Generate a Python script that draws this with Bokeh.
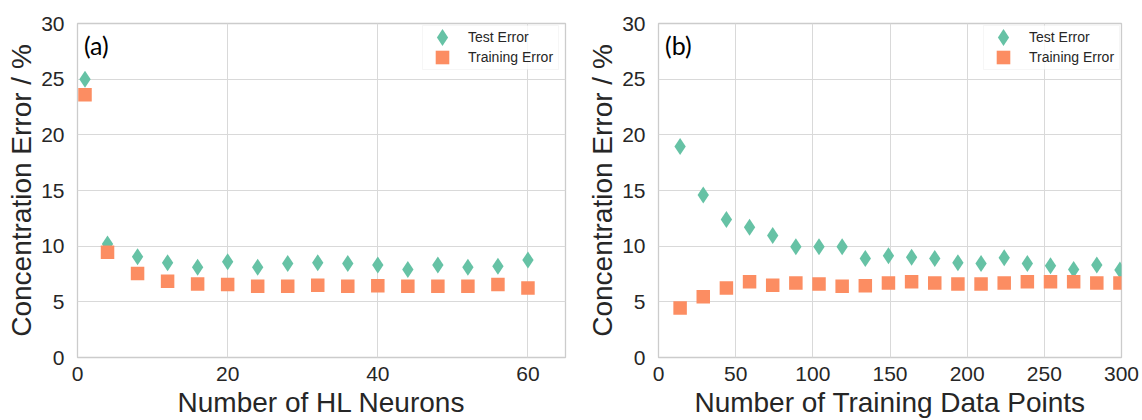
from bokeh.plotting import figure
from bokeh.layouts import row
from bokeh.models import (Legend, LegendItem, BoxAnnotation, Label, FixedTicker,
                          Range1d)
from bokeh.embed import file_html
from bokeh.resources import INLINE

# ---------------- data ----------------
hl_neurons = [1, 4, 8, 12, 16, 20, 24, 28, 32, 36, 40, 44, 48, 52, 56, 60]
hl_test = [25.0, 10.2, 9.05, 8.5, 8.1, 8.6, 8.1, 8.45, 8.5, 8.45, 8.3, 7.9, 8.3, 8.1, 8.2, 8.75]
hl_train = [23.6, 9.45, 7.55, 6.85, 6.6, 6.55, 6.4, 6.4, 6.5, 6.4, 6.45, 6.4, 6.4, 6.4, 6.55, 6.25]

tr_points = [14, 29, 44, 59, 74, 89, 104, 119, 134, 149, 164, 179, 194, 209, 224, 239, 254, 269, 284, 299]
tr_test = [18.95, 14.6, 12.4, 11.7, 10.95, 9.95, 9.95, 9.95, 8.9, 9.15, 9.0, 8.9, 8.5, 8.45, 8.95, 8.45, 8.25, 7.9, 8.3, 7.85]
tr_train = [4.45, 5.45, 6.25, 6.8, 6.5, 6.7, 6.6, 6.4, 6.45, 6.7, 6.8, 6.7, 6.6, 6.6, 6.7, 6.8, 6.8, 6.8, 6.7, 6.7]

y_ticks = [0, 5, 10, 15, 20, 25, 30]
hl_ticks = [0, 20, 40, 60]
tr_ticks = [0, 50, 100, 150, 200, 250, 300]

series_labels = ["Test Error", "Training Error"]
panel_tags = ["(a)", "(b)"]
x_labels = ["Number of HL Neurons", "Number of Training Data Points"]
y_label = "Concentration Error / %"

GREEN = "#66c2a5"
ORANGE = "#fc8d62"
TXT = "#262626"
FONT = "Liberation Sans"

H = 420
TOP = 23
BOTTOM = 59
FH = H - TOP - BOTTOM


def make_panel(xs, test, train, xmax, xticks, xlabel, tag, tag_x, width, bl, br):
    p = figure(width=width, height=H, x_range=Range1d(0, xmax), y_range=Range1d(0, 30),
               output_backend="svg", toolbar_location=None,
               min_border_left=bl, min_border_right=br,
               min_border_top=TOP, min_border_bottom=BOTTOM)
    fw = width - bl - br
    p.background_fill_color = "white"
    p.border_fill_color = "white"
    p.outline_line_color = "#cccccc"
    p.outline_line_width = 1.3

    p.xaxis.ticker = FixedTicker(ticks=xticks)
    p.yaxis.ticker = FixedTicker(ticks=y_ticks)
    for ax in (p.xaxis[0], p.yaxis[0]):
        ax.axis_line_color = None
        ax.major_tick_line_color = None
        ax.minor_tick_line_color = None
        ax.major_tick_out = 0
        ax.major_tick_in = 0
        ax.major_label_text_font = FONT
        ax.major_label_text_font_size = "21px"
        ax.major_label_text_color = TXT
        ax.axis_label_text_font = FONT
        ax.axis_label_text_font_size = "28px"
        ax.axis_label_text_font_style = "normal"
        ax.axis_label_text_color = TXT
    p.xaxis.axis_label = xlabel
    p.yaxis.axis_label = y_label
    p.xaxis.major_label_standoff = 9
    p.xaxis.axis_label_standoff = 3
    p.yaxis.major_label_standoff = 13
    p.yaxis.axis_label_standoff = 1

    p.xgrid.grid_line_color = "#d9d9d9"
    p.ygrid.grid_line_color = "#d9d9d9"
    p.xgrid.grid_line_width = 1
    p.ygrid.grid_line_width = 1

    r_test = p.scatter(xs, test, marker="diamond", size=17, fill_color=GREEN,
                       line_color=None)
    r_train = p.scatter(xs, train, marker="square", size=13.5, fill_color=ORANGE,
                        line_color=None)

    # legend frame
    box = BoxAnnotation(left=fw - 143, right=fw - 7, top=FH - 6, bottom=FH - 50,
                        left_units="screen", right_units="screen",
                        top_units="screen", bottom_units="screen",
                        fill_color="white", fill_alpha=0.8,
                        line_color="#e0e0e0", line_width=1)
    p.add_layout(box)

    gcx = fw - 123
    tsx = fw - 97
    row1 = FH - 18
    row2 = FH - 38
    common = dict(padding=0, margin=0, spacing=0, border_line_color=None,
                  background_fill_alpha=0, label_text_font=FONT,
                  label_text_font_size="14px", label_text_color=TXT,
                  label_height=20)
    leg1 = Legend(items=[LegendItem(label=series_labels[0], renderers=[r_test])],
                  location=(int(gcx - 21), int(row1 - 21)), glyph_width=42, glyph_height=42,
                  label_standoff=int(tsx - (gcx + 21)), **common)
    leg2 = Legend(items=[LegendItem(label=series_labels[1], renderers=[r_train])],
                  location=(int(gcx - 17), int(row2 - 17)), glyph_width=34, glyph_height=34,
                  label_standoff=int(tsx - (gcx + 17)), **common)
    p.add_layout(leg1)
    p.add_layout(leg2)

    p.add_layout(Label(x=tag_x, y=28.1, text=tag, text_font="Lato",
                       text_font_size="25px", text_color="black",
                       text_align="left", text_baseline="middle"))
    return p


p1 = make_panel(hl_neurons, hl_test, hl_train, 65, hl_ticks, x_labels[0],
                panel_tags[0], 0.85, 584, 77, 19)
p2 = make_panel(tr_points, tr_test, tr_train, 300, tr_ticks, x_labels[1],
                panel_tags[1], 4.2, 558, 69, 21)

layout = row(p1, p2)
open("out.html", "w").write(file_html(layout, INLINE))
